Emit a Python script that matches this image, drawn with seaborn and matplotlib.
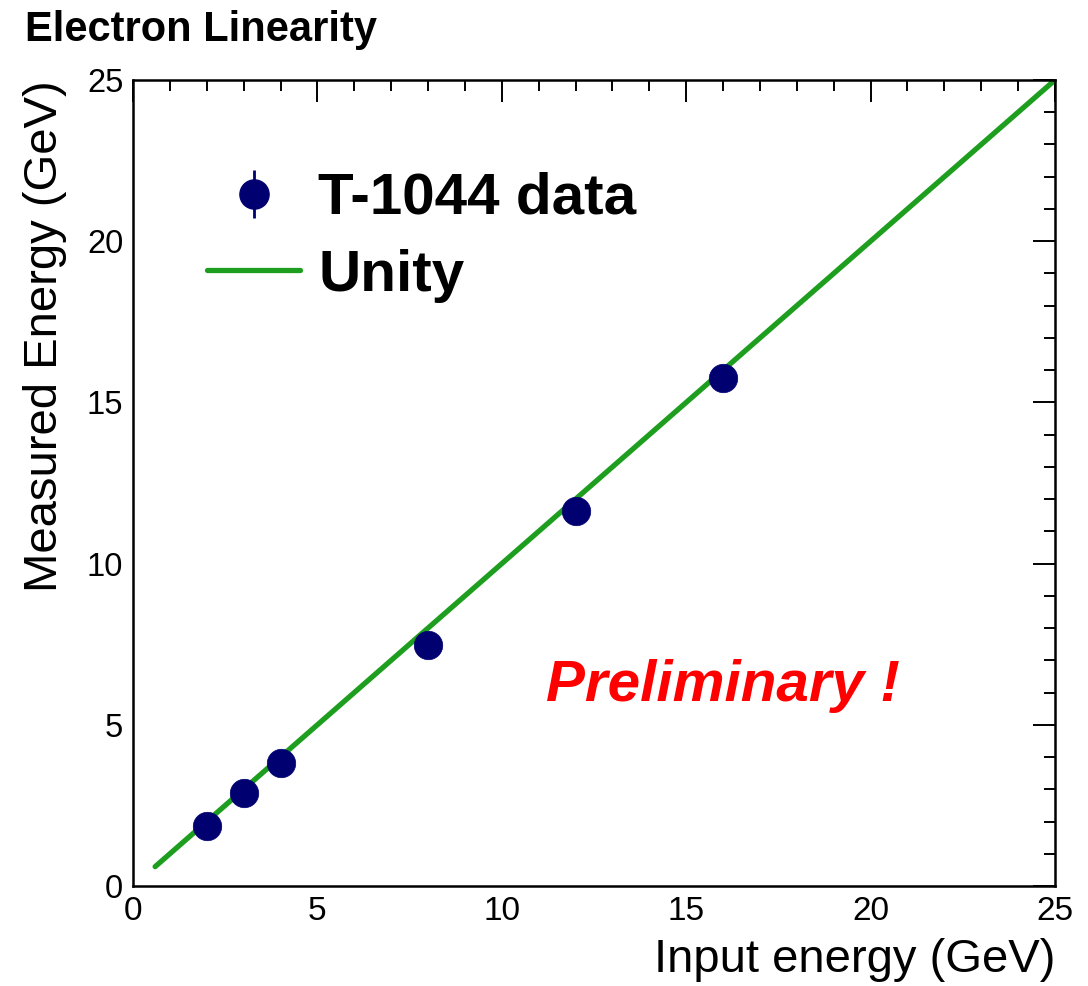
import matplotlib
matplotlib.use("Agg")
import matplotlib.pyplot as plt
from matplotlib.lines import Line2D
from matplotlib.ticker import MultipleLocator
import seaborn as sns
import pandas as pd

# Data
input_energy = [2, 3, 4, 8, 12, 16]
measured_energy = [1.85, 2.88, 3.82, 7.47, 11.63, 15.76]
unity_x = [0.6, 25]
unity_y = [0.6, 25]

sns.set_theme(style="white")
plt.rcParams['font.family'] = ['Liberation Sans', 'DejaVu Sans']
plt.rcParams['text.color'] = 'black'
plt.rcParams['axes.labelcolor'] = 'black'
plt.rcParams['xtick.color'] = 'black'
plt.rcParams['ytick.color'] = 'black'

fig = plt.figure(figsize=(10.88, 9.86), dpi=100)
ax = fig.add_axes([133/1088, 1-886/986, (1055-133)/1088, (886-80)/986])

green = "#1e9e1e"
navy = "#000070"

df_u = pd.DataFrame({"x": unity_x, "y": unity_y})
df_d = pd.DataFrame({"x": input_energy, "y": measured_energy})
sns.lineplot(data=df_u, x="x", y="y", ax=ax, color=green, linewidth=3.8, zorder=2)
sns.scatterplot(data=df_d, x="x", y="y", ax=ax, color=navy, s=420, edgecolor=navy,
                linewidth=0.5, zorder=3)

ax.set_xlim(0, 25)
ax.set_ylim(0, 25)
ax.xaxis.set_major_locator(MultipleLocator(5))
ax.xaxis.set_minor_locator(MultipleLocator(1))
ax.yaxis.set_major_locator(MultipleLocator(5))
ax.yaxis.set_minor_locator(MultipleLocator(1))
ax.tick_params(which="both", direction="in", top=True, right=True, colors="black",
               width=1.4)
ax.tick_params(axis="x", labelsize=24)
ax.tick_params(axis="y", labelsize=23.5)
ax.tick_params(which="major", length=16)
ax.tick_params(axis="x", which="major", pad=7)
ax.tick_params(axis="y", which="major", pad=7)
ax.tick_params(which="minor", length=8)
for s in ax.spines.values():
    s.set_color("black")
    s.set_linewidth(1.8)

ax.set_xlabel("")
ax.set_ylabel("")
fig.text(1055/1088, 1-960/986, "Input energy (GeV)", ha="right", va="center", fontsize=34)
fig.text(45/1088, 1-80/986, "Measured Energy (GeV)", ha="center", va="top", rotation=90,
         fontsize=34)
fig.text(25/1088, 1-30/986, "Electron Linearity", ha="left", va="center", fontsize=30,
         fontweight="bold")

fig.text(546/1088, 1-686/986, "Preliminary !", ha="left",
         va="center", fontsize=42, color="red", fontweight="bold", fontstyle="italic")

h_data = (Line2D([], [], marker="|", linestyle="none", color=navy, markersize=34,
                 markeredgewidth=2),
          Line2D([], [], marker="o", linestyle="none", color=navy, markersize=21))
h_unity = Line2D([], [], color=green, linewidth=3.8)
leg = fig.legend([h_data, h_unity], ["T-1044 data", "Unity"], loc="upper left",
                 bbox_to_anchor=(207/1088, 1-172/986), frameon=False, borderpad=0,
                 borderaxespad=0, handlelength=1.6, handletextpad=0.31, labelspacing=0.39,
                 prop={"size": 42, "weight": "bold"})

fig.savefig("out.png", dpi=100)
